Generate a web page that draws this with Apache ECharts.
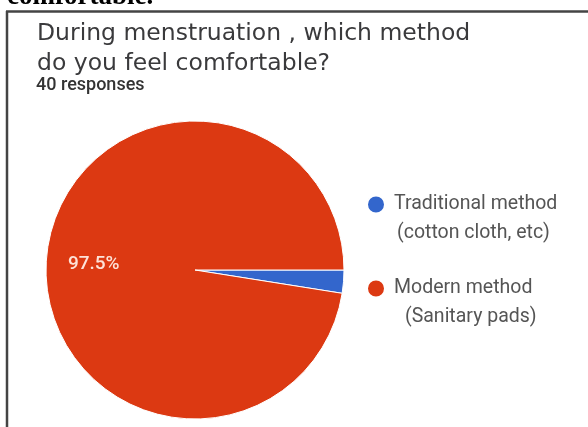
<!DOCTYPE html>
<html>
<head>
<meta charset="utf-8">
<script src="https://cdn.jsdelivr.net/npm/echarts@6/dist/echarts.min.js"></script>
<style>
html,body{margin:0;padding:0;background:#fff;}
#chart{width:588px;height:427px;}
</style>
</head>
<body>
<div id="chart"></div>
<script>
const titleLines = ["During menstruation , which method", "do you feel comfortable?"];
const subtitle = "40 responses";
const headerText = "comfortable.";
const categories = ["Traditional method", "Modern method"];
const categoryNotes = ["(cotton cloth, etc)", "(Sanitary pads)"];
const responses = [1, 39];
const colors = ["#3366cc", "#dc3912"];

const chart = echarts.init(document.getElementById('chart'), null, {renderer: 'canvas'});
const LH = 29;
const noteStyles = ['n0', 'n1'];
const option = {
  animation: false,
  title: [
    {
      text: titleLines.join('\n'),
      left: 32, top: 14,
      padding: 5,
      textStyle: {fontFamily: 'DejaVu Sans', fontSize: 23.5, fontWeight: 'normal', color: '#3a3a3c', lineHeight: 30}
    },
    {
      text: subtitle,
      left: 31, top: 71,
      textStyle: {fontFamily: 'Roboto', fontSize: 18, fontWeight: 500, color: '#333'}
    }
  ],
  legend: {
    orient: 'vertical',
    left: 366, top: 161,
    padding: 0,
    icon: 'circle',
    itemWidth: 18, itemHeight: 18,
    itemGap: -3,
    data: categories,
    formatter: function (name) {
      const i = categories.indexOf(name);
      return '\n{h|' + name + '}\n{' + noteStyles[i] + '|' + categoryNotes[i] + '}';
    },
    textStyle: {
      fontFamily: 'Roboto', fontSize: 19.5, color: '#555', lineHeight: LH,
      rich: {
        h: {fontFamily: 'Roboto', fontSize: 19.5, color: '#555', lineHeight: LH, padding: [0, 0, 0, 4]},
        n0: {fontFamily: 'Roboto', fontSize: 19.5, color: '#555', lineHeight: LH, padding: [0, 0, 0, 7]},
        n1: {fontFamily: 'Roboto', fontSize: 19.5, color: '#555', lineHeight: LH, padding: [0, 0, 0, 15]}
      }
    }
  },
  graphic: [
    {type: 'text', left: 7, top: -16, style: {text: headerText, font: 'bold 27px "Liberation Serif"', fill: '#000'}},
    {type: 'line', shape: {x1: 6, y1: 11.5, x2: 588, y2: 11.5}, style: {stroke: '#444', lineWidth: 2.5}},
    {type: 'line', shape: {x1: 7, y1: 11, x2: 7, y2: 427}, style: {stroke: '#444', lineWidth: 2.5}}
  ],
  series: [{
    type: 'pie',
    center: [195, 270],
    radius: 149,
    startAngle: 0,
    clockwise: true,
    itemStyle: {borderColor: '#fff', borderWidth: 1},
    label: {
      show: true, position: 'inside',
      formatter: '{d}%',
      color: '#fde2d8', fontFamily: 'Roboto', fontSize: 19, fontWeight: 500,
      offset: [-24, 0]
    },
    labelLine: {show: false},
    emphasis: {disabled: true},
    data: categories.map((c, i) => ({
      name: c, value: responses[i],
      itemStyle: {color: colors[i]},
      label: {show: i === 1}
    }))
  }]
};
chart.setOption(option);
</script>
</body>
</html>
